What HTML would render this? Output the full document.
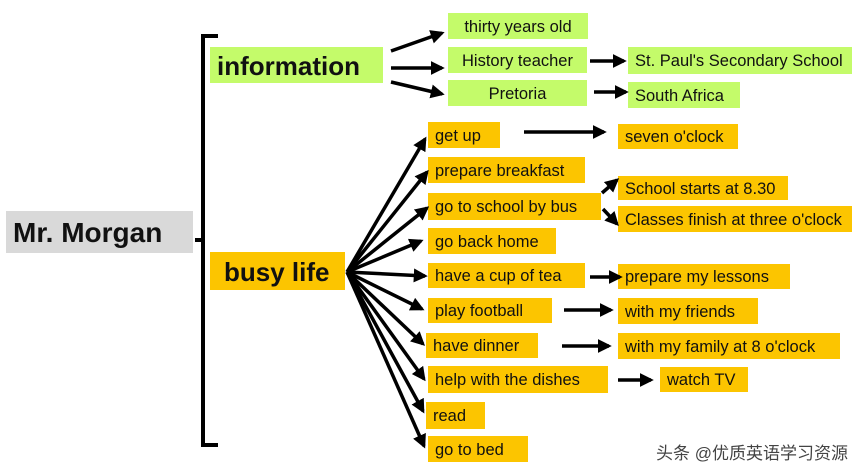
<!DOCTYPE html>
<html><head><meta charset="utf-8"><style>
body{margin:0;width:862px;height:472px;background:#fff;position:relative;overflow:hidden;font-family:"Liberation Sans","Noto Sans CJK SC",sans-serif;}
.b{position:absolute;font-size:16.5px;line-height:1;display:flex;align-items:center;color:#111;box-sizing:border-box;padding-left:7px;padding-top:2px;white-space:nowrap;}
.g{background:#c4fb6a;}
.o{background:#fcc500;}
.c{justify-content:center;padding-left:0;}
svg{position:absolute;left:0;top:0;}
</style></head><body>
<div class="b" style="left:6px;top:211px;width:187px;height:42px;background:#d9d9d9;font-size:28px;font-weight:bold;">Mr. Morgan</div>
<div class="b g" style="left:210px;top:47px;width:173px;height:36px;font-size:26px;font-weight:bold;">information</div>
<div class="b o" style="left:210px;top:252px;width:135px;height:38px;font-size:26px;font-weight:bold;padding-left:14px;">busy life</div>

<div class="b g c" style="left:448px;top:13px;width:140px;height:26px;">thirty years old</div>
<div class="b g c" style="left:448px;top:47px;width:139px;height:26px;">History teacher</div>
<div class="b g c" style="left:448px;top:80px;width:139px;height:26px;">Pretoria</div>
<div class="b g" style="left:628px;top:47px;width:224px;height:27px;">St. Paul's Secondary School</div>
<div class="b g" style="left:628px;top:82px;width:112px;height:26px;">South Africa</div>

<div class="b o" style="left:428px;top:122px;width:72px;height:26px;">get up</div>
<div class="b o" style="left:428px;top:157px;width:157px;height:26px;">prepare breakfast</div>
<div class="b o" style="left:428px;top:193px;width:173px;height:27px;">go to school by bus</div>
<div class="b o" style="left:428px;top:228px;width:128px;height:26px;">go back home</div>
<div class="b o" style="left:428px;top:263px;width:157px;height:25px;">have a cup of tea</div>
<div class="b o" style="left:428px;top:298px;width:124px;height:25px;">play football</div>
<div class="b o" style="left:426px;top:333px;width:112px;height:25px;">have dinner</div>
<div class="b o" style="left:428px;top:366px;width:180px;height:27px;">help with the dishes</div>
<div class="b o" style="left:426px;top:402px;width:59px;height:27px;">read</div>
<div class="b o" style="left:428px;top:436px;width:100px;height:26px;">go to bed</div>

<div class="b o" style="left:618px;top:124px;width:120px;height:25px;">seven o'clock</div>
<div class="b o" style="left:618px;top:176px;width:170px;height:24px;">School starts at 8.30</div>
<div class="b o" style="left:618px;top:206px;width:234px;height:26px;">Classes finish at three o'clock</div>
<div class="b o" style="left:618px;top:264px;width:172px;height:25px;">prepare my lessons</div>
<div class="b o" style="left:618px;top:298px;width:140px;height:26px;">with my friends</div>
<div class="b o" style="left:618px;top:333px;width:222px;height:26px;">with my family at 8 o'clock</div>
<div class="b o" style="left:660px;top:367px;width:88px;height:25px;">watch TV</div>

<div style="position:absolute;left:656px;top:439px;font-size:17px;color:#444;">头条 @优质英语学习资源</div>

<svg width="862" height="472">
<defs><marker id="a" markerWidth="4" markerHeight="4" refX="3.2" refY="2" orient="auto" markerUnits="strokeWidth"><path d="M0,0L4,2L0,4z" fill="#000"/></marker></defs>
<path d="M218,36H203V445H218M203,240H195" fill="none" stroke="#000" stroke-width="4"/>
<g stroke="#000" stroke-width="3.5" fill="none" marker-end="url(#a)">
<line x1="391" y1="51" x2="442" y2="33"/>
<line x1="391" y1="68" x2="442" y2="68"/>
<line x1="391" y1="82" x2="442" y2="94"/>
<line x1="590" y1="61" x2="624" y2="61"/>
<line x1="594" y1="92" x2="626" y2="92"/>
<line x1="524" y1="132" x2="604" y2="132"/>
<line x1="602" y1="193" x2="617" y2="180"/>
<line x1="603" y1="209" x2="617" y2="224"/>
<line x1="590" y1="277" x2="620" y2="277"/>
<line x1="564" y1="310" x2="611" y2="310"/>
<line x1="562" y1="346" x2="609" y2="346"/>
<line x1="618" y1="380" x2="651" y2="380"/>
<line x1="347" y1="272" x2="425" y2="139"/>
<line x1="347" y1="272" x2="427" y2="172"/>
<line x1="347" y1="272" x2="427" y2="208"/>
<line x1="347" y1="272" x2="421" y2="241"/>
<line x1="347" y1="272" x2="425" y2="276"/>
<line x1="347" y1="272" x2="422" y2="309"/>
<line x1="347" y1="272" x2="423" y2="344"/>
<line x1="347" y1="272" x2="424" y2="379"/>
<line x1="347" y1="272" x2="423" y2="411"/>
<line x1="347" y1="272" x2="424" y2="446"/>
</g>
</svg>
</body></html>
